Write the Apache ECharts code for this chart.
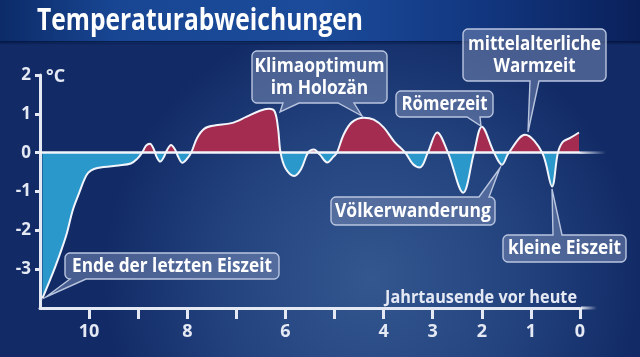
<!DOCTYPE html>
<html>
<head>
<meta charset="utf-8">
<script src="https://cdn.jsdelivr.net/npm/echarts@6/dist/echarts.min.js"></script>
<style>
html,body{margin:0;padding:0;background:#132c66;}
#c{width:640px;height:357px;}
</style>
</head>
<body>
<div id="c"></div>
<script>
// ---- data ----
const kyr = [10.95,10.82,10.69,10.55,10.45,10.33,10.2,10.1,10.02,9.9,9.7,9.4,9.15,9.02,8.92,8.84,8.76,8.68,8.62,8.55,8.48,8.42,8.33,8.25,8.18,8.1,8.0,7.92,7.8,7.65,7.45,7.1,6.8,6.52,6.34,6.22,6.15,6.1,6.0,5.82,5.68,5.54,5.42,5.3,5.15,5.02,4.95,4.82,4.65,4.4,4.2,4.0,3.78,3.56,3.4,3.26,3.1,2.91,2.69,2.38,2.16,2.0,1.75,1.59,1.45,1.12,0.77,0.57,0.45,0.35,0.2,0.02];
const anomaly = [-3.75,-3.35,-2.94,-2.45,-2.06,-1.47,-1.03,-0.70,-0.52,-0.42,-0.37,-0.33,-0.28,-0.16,0,0.18,0.23,0.08,-0.12,-0.23,-0.12,0.05,0.2,0.08,-0.12,-0.26,-0.15,0,0.38,0.62,0.7,0.76,0.92,1.08,1.13,1.06,0.62,0,-0.4,-0.6,-0.42,0,0.08,-0.05,-0.25,-0.1,0,0.45,0.78,0.9,0.85,0.65,0.28,0,-0.3,-0.38,0,0.52,0,-1.03,0,0.67,0,-0.31,0,0.46,0,-0.87,0,0.28,0.38,0.52];
const xTicks = [10,9,8,7,6,5,4,3,2,1,0];
const xTickLabels = [10,8,6,4,3,2,1,0];
const yTickLabels = [2,1,0,-1,-2,-3];
const titleText = 'Temperaturabweichungen';
const xAxisTitle = 'Jahrtausende vor heute';
const unitText = '°C';

const FONT = '"Open Sans", "Noto Sans", sans-serif';
const LIGHT = '#e4e9f4';

const chart = echarts.init(document.getElementById('c'), null, {renderer:'canvas'});
const pts = kyr.map((k,i)=>[k, anomaly[i]]);

// text width fitting (horizontal compression to match the narrow broadcast font)
const mctx = document.createElement('canvas').getContext('2d');
function fitScale(text, font, target){
  mctx.font = font;
  const w = mctx.measureText(text).width;
  return target / w;
}

function corner(cx, cy, r, a0, a1, out){
  const n = 5;
  for(let i=0;i<=n;i++){
    const a = a0 + (a1-a0)*i/n;
    out.push([cx + r*Math.cos(a), cy + r*Math.sin(a)]);
  }
}
function bubblePoints(x,y,w,h,r,tails){
  const P = [];
  const PI = Math.PI;
  corner(x+r, y+r, r, PI, 1.5*PI, P);
  tails.filter(t=>t.edge==='top').sort((a,b)=>a.b1-b.b1).forEach(t=>{
    P.push([t.b1,y],[t.tx,t.ty],[t.b2,y]);
  });
  corner(x+w-r, y+r, r, 1.5*PI, 2*PI, P);
  corner(x+w-r, y+h-r, r, 0, 0.5*PI, P);
  tails.filter(t=>t.edge==='bottom').sort((a,b)=>b.b1-a.b1).forEach(t=>{
    P.push([t.b2,y+h],[t.tx,t.ty],[t.b1,y+h]);
  });
  corner(x+r, y+h-r, r, 0.5*PI, PI, P);
  return P;
}

const callouts = [
  {lines:['Klimaoptimum','im Holozän'], box:[252,51,135,52], target:130,
    tails:[{edge:'bottom',b1:283,b2:299,tx:280,ty:112},{edge:'bottom',b1:338,b2:354,tx:362,ty:116}]},
  {lines:['Römerzeit'], box:[396,91,97,26], target:86,
    tails:[{edge:'bottom',b1:467,b2:480,tx:481,ty:126}]},
  {lines:['mittelalterliche','Warmzeit'], box:[463,29,143,52], target:133,
    tails:[{edge:'bottom',b1:530,b2:539,tx:528,ty:132}]},
  {lines:['Völkerwanderung'], box:[331,197,164,28], target:156,
    tails:[{edge:'top',b1:479,b2:489,tx:500,ty:168}]},
  {lines:['kleine Eiszeit'], box:[503,235,123,27], target:113,
    tails:[{edge:'top',b1:553,b2:562,tx:552,ty:189}]},
  {lines:['Ende der letzten Eiszeit'], box:[65,253,214,26], target:200,
    tails:[{edge:'bottom',b1:70,b2:86,tx:46,ty:297}]}
];

const BUBBLE_FONT_SIZE = 19;
const bubbleFont = `bold ${BUBBLE_FONT_SIZE}px ${FONT}`;
const graphics = [];
// title band
graphics.push({type:'rect', z:-10, silent:true, shape:{x:0,y:0,width:640,height:43},
  style:{fill:new echarts.graphic.LinearGradient(0,0,1,0,[
    {offset:0,color:'#0c2b68'},{offset:0.18,color:'#184693'},{offset:0.5,color:'#1b4b9a'},{offset:0.75,color:'#123780'},{offset:1,color:'#0a205a'}])}});
graphics.push({type:'rect', z:-9, silent:true, shape:{x:0,y:41,width:640,height:4},
  style:{fill:new echarts.graphic.LinearGradient(0,0,0,1,[{offset:0,color:'rgba(5,20,60,0.9)'},{offset:1,color:'rgba(5,20,60,0)'}])}});
const titleFont = `bold 30px ${FONT}`;
graphics.push({type:'text', x:37, y:21, scaleX:fitScale(titleText,titleFont,326), silent:true,
  style:{text:titleText, font:titleFont, fill:'#ffffff', align:'left', verticalAlign:'middle',
    shadowColor:'rgba(0,0,0,0.5)', shadowBlur:3, shadowOffsetX:1, shadowOffsetY:1}});
// unit
graphics.push({type:'text', x:46, y:77, silent:true,
  style:{text:unitText, font:`bold 18px ${FONT}`, fill:LIGHT, align:'left', verticalAlign:'middle'}});
// x axis title
const xtFont = `bold 17px ${FONT}`;
graphics.push({type:'text', x:577, y:298, scaleX:fitScale(xAxisTitle,xtFont,192), silent:true,
  style:{text:xAxisTitle, font:xtFont, fill:LIGHT, align:'right', verticalAlign:'middle'}});

callouts.forEach(c=>{
  const [x,y,w,h] = c.box;
  graphics.push({type:'polygon', silent:true, z:50, shape:{points:bubblePoints(x,y,w,h,5,c.tails)},
    style:{fill:'rgba(118,136,178,0.55)', stroke:'#b9c5df', lineWidth:1.4}});
  const sx = fitScale(c.lines.reduce((a,b)=>a.length>=b.length?a:b), bubbleFont, c.target);
  const lh = 22;
  c.lines.forEach((ln,i)=>{
    const cy = y + h/2 + (i - (c.lines.length-1)/2)*lh;
    graphics.push({type:'text', silent:true, z:51, x:x+w/2, y:cy+0.5, scaleX:sx,
      style:{text:ln, font:bubbleFont, fill:'#ffffff', align:'center', verticalAlign:'middle'}});
  });
});

const option = {
  animation:false,
  backgroundColor:{type:'radial', x:0.58, y:0.78, r:0.75, colorStops:[
    {offset:0,color:'#34578f'},{offset:0.55,color:'#23437f'},{offset:1,color:'#122b66'}]},
  grid:{left:40, right:60, top:75, bottom:49, containLabel:false},
  xAxis:{type:'value', inverse:true, min:0, max:11, interval:1,
    axisLine:{show:true, onZero:false, lineStyle:{color:LIGHT, width:3}},
    axisTick:{show:true, length:11, customValues:xTicks, lineStyle:{color:LIGHT, width:3}},
    axisLabel:{customValues:xTickLabels, color:LIGHT, fontSize:18, fontWeight:'bold', fontFamily:FONT, margin:15},
    splitLine:{show:false}},
  yAxis:{type:'value', min:-4, max:2, interval:1,
    axisLine:{show:true, onZero:false, lineStyle:{color:LIGHT, width:3}},
    axisTick:{show:true, length:5, customValues:yTickLabels, lineStyle:{color:LIGHT, width:3}},
    axisLabel:{customValues:yTickLabels, color:LIGHT, fontSize:17, fontWeight:'bold', fontFamily:FONT, margin:9},
    splitLine:{show:false}},
  visualMap:{type:'piecewise', show:false, dimension:1, seriesIndex:0,
    pieces:[{gte:-10, lt:0, color:'#2a98cb'},{gte:0, lte:10, color:'#a52c51'}]},
  series:[
    {type:'line', data:pts, smooth:0.35, symbol:'none', silent:true, z:2,
      lineStyle:{width:0, opacity:0}, areaStyle:{opacity:1}},
    {type:'line', data:pts, smooth:0.35, symbol:'none', silent:true, z:4,
      lineStyle:{color:'#f2f5fb', width:2},
      markLine:{silent:true, symbol:'none', label:{show:false},
        lineStyle:{color:'#f2f5fb', width:2.5, type:'solid'}, data:[{yAxis:0}]}}
  ],
  graphic:graphics
};
chart.setOption(option);

// fading extensions of zero line and x axis line beyond the plot's right edge
const p0 = chart.convertToPixel({xAxisIndex:0, yAxisIndex:0},[0,0]);
const pb = chart.convertToPixel({xAxisIndex:0, yAxisIndex:0},[0,-4]);
const fade = new echarts.graphic.LinearGradient(0,0,1,0,[{offset:0,color:'rgba(242,245,251,0.9)'},{offset:1,color:'rgba(242,245,251,0)'}]);
chart.setOption({graphic:graphics.concat([
  {type:'rect', silent:true, z:5, shape:{x:p0[0], y:p0[1]-1.25, width:26, height:2.5}, style:{fill:fade}},
  {type:'rect', silent:true, z:5, shape:{x:pb[0]+1, y:pb[1]-1.5, width:16, height:3}, style:{fill:fade}}
])});
</script>
</body>
</html>
